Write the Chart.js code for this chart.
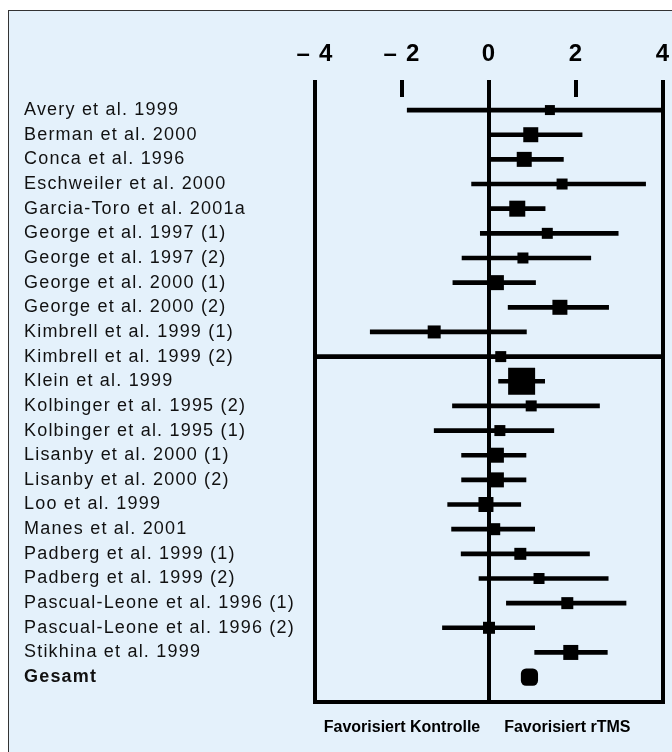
<!DOCTYPE html>
<html lang="de">
<head>
<meta charset="utf-8">
<title>rTMS Forest Plot</title>
<script src="https://cdn.jsdelivr.net/npm/chart.js@4.4.1/dist/chart.umd.min.js"></script>
<style>
    html, body {
        margin: 0;
        padding: 0;
        background: #ffffff;
    }

    .panel {
        position: absolute;
        left: 8px;
        top: 10px;
        width: 720px;
        height: 800px;
        background: #e4f1fb;
        border: 1.5px solid #333333;
    }

    .lienzo {
        position: absolute;
        left: 0;
        top: 0;
        width: 672px;
        height: 752px;
    }
</style>
</head>
<body>

<div class="panel"></div>

<div class="lienzo">
    <canvas id="forestChart" width="672" height="752"></canvas>
</div>

<script>

// DATEN
const studien = [
    'Avery et al. 1999',
    'Berman et al. 2000',
    'Conca et al. 1996',
    'Eschweiler et al. 2000',
    'Garcia-Toro et al. 2001a',
    'George et al. 1997 (1)',
    'George et al. 1997 (2)',
    'George et al. 2000 (1)',
    'George et al. 2000 (2)',
    'Kimbrell et al. 1999 (1)',
    'Kimbrell et al. 1999 (2)',
    'Klein et al. 1999',
    'Kolbinger et al. 1995 (2)',
    'Kolbinger et al. 1995 (1)',
    'Lisanby et al. 2000 (1)',
    'Lisanby et al. 2000 (2)',
    'Loo et al. 1999',
    'Manes et al. 2001',
    'Padberg et al. 1999 (1)',
    'Padberg et al. 1999 (2)',
    'Pascual-Leone et al. 1996 (1)',
    'Pascual-Leone et al. 1996 (2)',
    'Stikhina et al. 1999',
    'Gesamt'
];

// Effektstärke (Punktschätzer)
const effekt = [
    1.40, 0.96, 0.81, 1.68, 0.65, 1.34, 0.78, 0.17,
    1.63, -1.26, 0.27, 0.75, 0.97, 0.25, 0.17, 0.17,
    -0.07, 0.12, 0.72, 1.15, 1.80, 0.00, 1.88, 0.93
];

// Konfidenzintervall, untere Grenze
const ciUnten = [
    -1.88, 0.05, 0.05, -0.40, 0.05, -0.20, -0.62, -0.83,
    0.44, -2.73, -4.60, 0.22, -0.84, -1.26, -0.63, -0.63,
    -0.95, -0.86, -0.64, -0.23, 0.40, -1.07, 1.05, null
];

// Konfidenzintervall, obere Grenze
const ciOben = [
    4.40, 2.14, 1.71, 3.60, 1.29, 2.97, 2.34, 1.07,
    2.75, 0.86, 4.60, 1.28, 2.54, 1.49, 0.85, 0.85,
    0.73, 1.05, 2.31, 2.74, 3.15, 1.05, 2.72, null
];

// Gewicht der Studie (Kantenlänge des Quadrats)
const gewicht = [
    10, 15, 15, 11, 16, 11, 11, 15,
    15, 13, 11, 27, 11, 11, 15, 15,
    15, 12, 12, 11, 12, 12, 15, 20
];

const xTicks = [-4, -2, 0, 2, 4];

const fussText = [
    'Favorisiert Kontrolle',
    'Favorisiert rTMS'
];

const fussWerte = [-2.0, 1.8];

const letzte = studien.length - 1;

const schrift =
    "'Liberation Sans', Arial, Helvetica, sans-serif";

const schriftSchmal =
    "'Liberation Sans Narrow', 'Liberation Sans', Arial, sans-serif";


// BALKEN (KONFIDENZINTERVALLE)
const intervalle =
    studien.map((s, i) => ({
        x: ciUnten[i] === null ? null : [ciUnten[i], ciOben[i]],
        y: i
    }));

// PUNKTE
const punkte =
    studien.map((s, i) => ({
        x: effekt[i],
        y: i
    }));


// etwas breitere Schrift wie im Original
const sperrung = {
    id: 'sperrung',
    beforeDraw: chart => {
        chart.ctx.letterSpacing = '1.2px';
    },
    afterDatasetsDraw: chart => {
        // Fusszeile (z: 1) wird danach gezeichnet
        chart.ctx.letterSpacing = '0px';
    }
};


new Chart(

    document.getElementById(
        'forestChart'
    ),

    {
        type: 'bar',

        data: {

            datasets: [
                {
                    type: 'bar',
                    indexAxis: 'y',
                    data: intervalle,
                    backgroundColor: '#000000',
                    borderWidth: 0,
                    barThickness: 4,
                    order: 2
                },
                {
                    type: 'scatter',
                    data: punkte,
                    backgroundColor: '#000000',
                    borderWidth: 0,
                    pointBorderWidth: 0,
                    pointStyle: studien.map(
                        (s, i) => i === letzte ? 'rectRounded' : 'rect'
                    ),
                    pointRadius: gewicht.map(
                        (g, i) => i === letzte ? g / 2 : g / Math.SQRT2
                    ),
                    order: 1
                }
            ]
        },

        plugins: [sperrung],

        options: {

            responsive: false,
            animation: false,

            layout: {
                autoPadding: false,
                padding: {
                    left: 24,
                    right: 9,
                    top: 0,
                    bottom: 0
                }
            },

            plugins: {
                legend: {
                    display: false
                },
                tooltip: {
                    enabled: false
                }
            },

            scales: {

                x: {
                    type: 'linear',
                    position: 'top',
                    min: -4,
                    max: 4,
                    offset: false,
                    afterBuildTicks: scale => {
                        scale.ticks = xTicks.map(v => ({ value: v }));
                    },
                    afterFit: scale => {
                        scale.height = 97;
                    },
                    border: {
                        display: false
                    },
                    grid: {
                        offset: false,
                        color: '#000000',
                        lineWidth: ctx =>
                            ctx.tick && ctx.tick.value % 4 === 0 ? 4 : 0,
                        tickWidth: 4,
                        tickColor: '#000000',
                        tickLength: 17
                    },
                    ticks: {
                        color: '#000000',
                        padding: 0,
                        maxRotation: 0,
                        font: {
                            family: schriftSchmal,
                            size: 24,
                            weight: 'bold',
                            lineHeight: '51px'
                        },
                        callback: v =>
                            v < 0 ? '\u2013 ' + Math.abs(v) : String(v)
                    }
                },

                x2: {
                    type: 'linear',
                    position: 'bottom',
                    min: -4,
                    max: 4,
                    offset: false,
                    afterBuildTicks: scale => {
                        scale.ticks = fussWerte.map(v => ({ value: v }));
                    },
                    afterFit: scale => {
                        scale.height = 50;
                    },
                    border: {
                        display: true,
                        color: '#000000',
                        width: 4
                    },
                    grid: {
                        display: false,
                        drawTicks: false,
                        offset: false,
                        lineWidth: 4
                    },
                    ticks: {
                        color: '#000000',
                        padding: 16,
                        maxRotation: 0,
                        z: 1,
                        font: {
                            family: schrift,
                            size: 16,
                            weight: 'bold'
                        },
                        callback: (v, i) => fussText[i]
                    }
                },

                y: {
                    type: 'linear',
                    reverse: true,
                    min: -0.53,
                    max: 24.01,
                    bounds: 'data',
                    offset: false,
                    afterBuildTicks: scale => {
                        scale.ticks = studien.map((s, i) => ({ value: i }));
                    },
                    afterFit: scale => {
                        scale.width = 291;
                    },
                    border: {
                        display: false
                    },
                    grid: {
                        display: false,
                        offset: false
                    },
                    ticks: {
                        color: '#111111',
                        padding: 0,
                        crossAlign: 'far',
                        autoSkip: false,
                        font: ctx => ({
                            family: schrift,
                            size: 18,
                            weight: ctx.index === letzte ? 'bold' : 'normal'
                        }),
                        callback: (v, i) => studien[i]
                    }
                }
            }
        }
    }
);

</script>
</body>
</html>
